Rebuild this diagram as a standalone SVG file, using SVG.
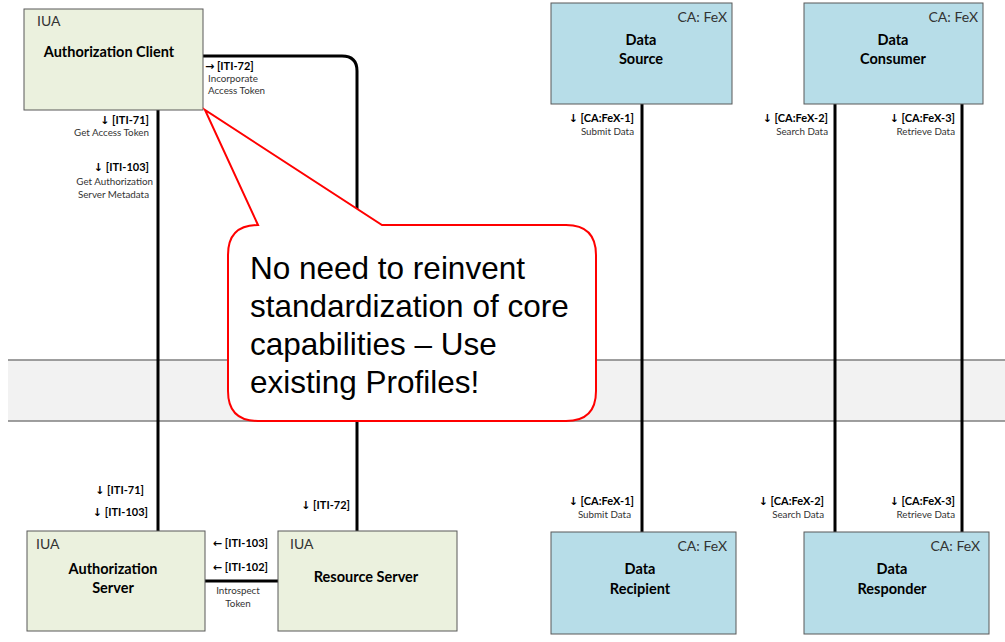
<svg xmlns="http://www.w3.org/2000/svg" width="1005" height="642" viewBox="0 0 1005 642">
<style>
.iua{fill:#ebf1de;stroke:#595959;stroke-width:1}
.ca{fill:#b7dde8;stroke:#595959;stroke-width:1}
.conn{fill:none;stroke:#000;stroke-width:3}
.t{font-family:Lato,"Open Sans",sans-serif;fill:#000}
.hdr{font-size:14px;fill:#333}
.name{font-size:14.5px;font-weight:bold;text-anchor:middle}
.lbl{font-size:11px;font-weight:bold;text-anchor:end}
.sub{font-size:9.8px;fill:#333;text-anchor:end}
.ar{font-family:"DejaVu Sans",sans-serif;font-weight:bold;fill:#000}
.callt{font-family:"Liberation Sans",Arial,sans-serif;font-size:31.5px;fill:#000}
</style>
<rect width="1005" height="642" fill="#fff"/>
<g id="band">
<rect x="8" y="360" width="997" height="61" fill="#f2f2f2"/>
<line x1="8" y1="360" x2="1005" y2="360" stroke="#7f7f7f" stroke-width="1.5"/>
<line x1="8" y1="421" x2="1005" y2="421" stroke="#7f7f7f" stroke-width="1.5"/>
</g>
<g id="connectors">
<line class="conn" x1="158" y1="110" x2="158" y2="531"/>
<path class="conn" d="M203,56 H342 Q357,56 357,71 V531"/>
<line class="conn" x1="642" y1="104" x2="642" y2="532"/>
<line class="conn" x1="835" y1="104" x2="835" y2="532"/>
<line class="conn" x1="962" y1="104" x2="962" y2="532"/>
<line class="conn" x1="205" y1="581" x2="278" y2="581"/>
<g class="t">
<text class="lbl" x="205" y="70" style="text-anchor:start"><tspan class="ar">→</tspan> [ITI-72]</text>
<text class="sub" x="208" y="82" style="text-anchor:start">Incorporate</text>
<text class="sub" x="208" y="94" style="text-anchor:start">Access Token</text>
<text class="lbl" x="149" y="124"><tspan class="ar">↓</tspan> [ITI-71]</text>
<text class="sub" x="149" y="136">Get Access Token</text>
<text class="lbl" x="149" y="171"><tspan class="ar">↓</tspan> [ITI-103]</text>
<text class="sub" x="153" y="185">Get Authorization</text>
<text class="sub" x="149" y="198">Server Metadata</text>
<text class="lbl" x="634" y="122"><tspan class="ar">↓</tspan> [CA:FeX-1]</text>
<text class="sub" x="634" y="135">Submit Data</text>
<text class="lbl" x="828" y="122"><tspan class="ar">↓</tspan> [CA:FeX-2]</text>
<text class="sub" x="828" y="135">Search Data</text>
<text class="lbl" x="955" y="122"><tspan class="ar">↓</tspan> [CA:FeX-3]</text>
<text class="sub" x="955" y="135">Retrieve Data</text>
<text class="lbl" x="144" y="494"><tspan class="ar">↓</tspan> [ITI-71]</text>
<text class="lbl" x="148" y="516"><tspan class="ar">↓</tspan> [ITI-103]</text>
<text class="lbl" x="350" y="509"><tspan class="ar">↓</tspan> [ITI-72]</text>
<text class="lbl" x="268" y="547"><tspan class="ar">←</tspan> [ITI-103]</text>
<text class="lbl" x="268" y="571"><tspan class="ar">←</tspan> [ITI-102]</text>
<text class="sub" x="238" y="594" style="text-anchor:middle">Introspect</text>
<text class="sub" x="238" y="607" style="text-anchor:middle">Token</text>
<text class="lbl" x="634" y="505"><tspan class="ar">↓</tspan> [CA:FeX-1]</text>
<text class="sub" x="631" y="518">Submit Data</text>
<text class="lbl" x="824" y="505"><tspan class="ar">↓</tspan> [CA:FeX-2]</text>
<text class="sub" x="824" y="518">Search Data</text>
<text class="lbl" x="955" y="505"><tspan class="ar">↓</tspan> [CA:FeX-3]</text>
<text class="sub" x="955" y="518">Retrieve Data</text>
</g>
</g>
<g id="auth-client">
<rect class="iua" x="24" y="9" width="179" height="101"/>
<text class="t hdr" x="37" y="26">IUA</text>
<text class="t name" x="109" y="57">Authorization Client</text>
</g>
<g id="data-source">
<rect class="ca" x="551" y="3" width="181" height="101"/>
<text class="t hdr" x="727" y="22" text-anchor="end">CA: FeX</text>
<text class="t name" x="641" y="45">Data</text>
<text class="t name" x="641" y="64">Source</text>
</g>
<g id="data-consumer">
<rect class="ca" x="804" y="3" width="179" height="101"/>
<text class="t hdr" x="978" y="22" text-anchor="end">CA: FeX</text>
<text class="t name" x="893" y="45">Data</text>
<text class="t name" x="893" y="64">Consumer</text>
</g>
<g id="auth-server">
<rect class="iua" x="27" y="531" width="178" height="100"/>
<text class="t hdr" x="36" y="549">IUA</text>
<text class="t name" x="113" y="574">Authorization</text>
<text class="t name" x="113" y="593">Server</text>
</g>
<g id="resource-server">
<rect class="iua" x="278" y="531" width="179" height="100"/>
<text class="t hdr" x="290" y="549">IUA</text>
<text class="t name" x="366" y="582">Resource Server</text>
</g>
<g id="data-recipient">
<rect class="ca" x="551" y="532" width="185" height="102"/>
<text class="t hdr" x="727" y="551" text-anchor="end">CA: FeX</text>
<text class="t name" x="640" y="574">Data</text>
<text class="t name" x="640" y="594">Recipient</text>
</g>
<g id="data-responder">
<rect class="ca" x="804" y="532" width="185" height="102"/>
<text class="t hdr" x="980" y="551" text-anchor="end">CA: FeX</text>
<text class="t name" x="892" y="574">Data</text>
<text class="t name" x="892" y="594">Responder</text>
</g>
<g id="callout">
<path d="M258,225 L205,110 L382,225 H566 Q596,225 596,255 V391 Q596,421 566,421 H258 Q228,421 228,391 V255 Q228,225 258,225 Z" fill="#fff" stroke="#ff0000" stroke-width="2" stroke-linejoin="miter"/>
<text class="callt" x="250" y="279">No need to reinvent</text>
<text class="callt" x="250" y="317">standardization of core</text>
<text class="callt" x="250" y="355">capabilities – Use</text>
<text class="callt" x="250" y="393">existing Profiles!</text>
</g>
</svg>
